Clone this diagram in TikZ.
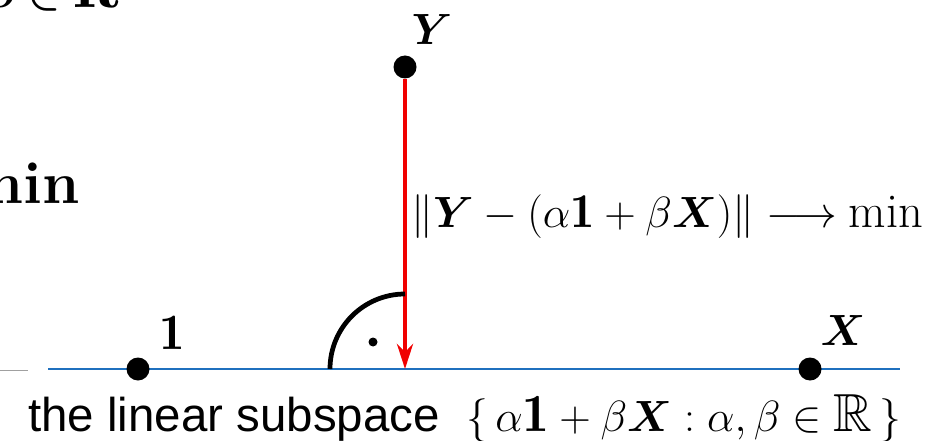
\documentclass[tikz,border=0pt]{standalone}
\usepackage{amsmath,amssymb,bm}
\usepackage{fontspec}
\newfontfamily\labelsans{Liberation Sans}
\usetikzlibrary{arrows.meta,calc}
\definecolor{spanblue}{HTML}{1F70BE}
\definecolor{residred}{HTML}{F00000}
\definecolor{stubgray}{HTML}{A0A0A0}

\begin{document}
\begin{tikzpicture}[>=Stealth,
  vecdot/.style={circle,fill=black,inner sep=0pt,minimum size=0.46cm},
  veclbl/.style={inner sep=0pt,font=\fontsize{25}{30}\selectfont}]
  \useasboundingbox (0,0) rectangle (18.8,8.8);
  \clip (0,0) rectangle (18.8,8.8);
  % leftovers of the slide
  \node[anchor=base west,inner sep=0pt,font=\fontsize{34}{40}\selectfont] (topstub) at (-0.3,8.64) {$\bm{\beta\in}\mathbf{R}$};
  \node[anchor=base east,inner sep=0pt,font=\fontsize{34}{40}\selectfont\bfseries] (minstub) at (1.6,4.74) {min};
  \coordinate (gs) at (0,1.40); \coordinate (ge) at (0.56,1.40);
  \draw[stubgray,line width=0.5pt] (gs) -- (ge);
  % the subspace
  \coordinate (L) at (0.96,1.42); \coordinate (R) at (18.0,1.42);
  \draw[spanblue,line width=1.4pt] (L) -- (R);
  \node[vecdot] (one) at (2.76,1.42) {};
  \node[vecdot] (X) at (16.2,1.42) {};
  \node[vecdot] (Y) at (8.1,7.46) {};
  \coordinate (foot) at (8.1,1.42);
  \node[veclbl,font=\fontsize{29}{34}\selectfont] (onelbl) at (3.44,2.14) {$\mathbf{1}$};
  \node[veclbl] (Xlbl) at (16.86,2.2) {$\bm{X}$};
  \node[veclbl] (Ylbl) at (8.64,8.2) {$\bm{Y}$};
  % residual and right angle
  \draw[residred,line width=2.7pt,-{Stealth[length=0.5cm,width=0.32cm]}] (Y) -- (foot);
  \draw[line width=2.7pt] ($(foot)+(-1.5,0)$) arc[start angle=180,end angle=90,radius=1.5];
  \fill (7.46,1.96) circle (0.09);
  \node[anchor=west,inner sep=0pt,font=\fontsize{27.6}{32}\selectfont] (norm) at (8.22,4.46)
    {$\|\bm{Y}-(\alpha\mathbf{1}+\beta\bm{X})\|\longrightarrow\min$};
  \node[anchor=base west,inner sep=0pt,font=\fontsize{27}{32}\selectfont] (span) at (0.56,0.18)
    {\labelsans the linear subspace\ \ {\fontsize{30.5}{35}\selectfont$\{\,\alpha\mathbf{1}+\beta\bm{X}:\alpha,\beta\in\mathbb{R}\,\}$}};
\end{tikzpicture}
\end{document}
